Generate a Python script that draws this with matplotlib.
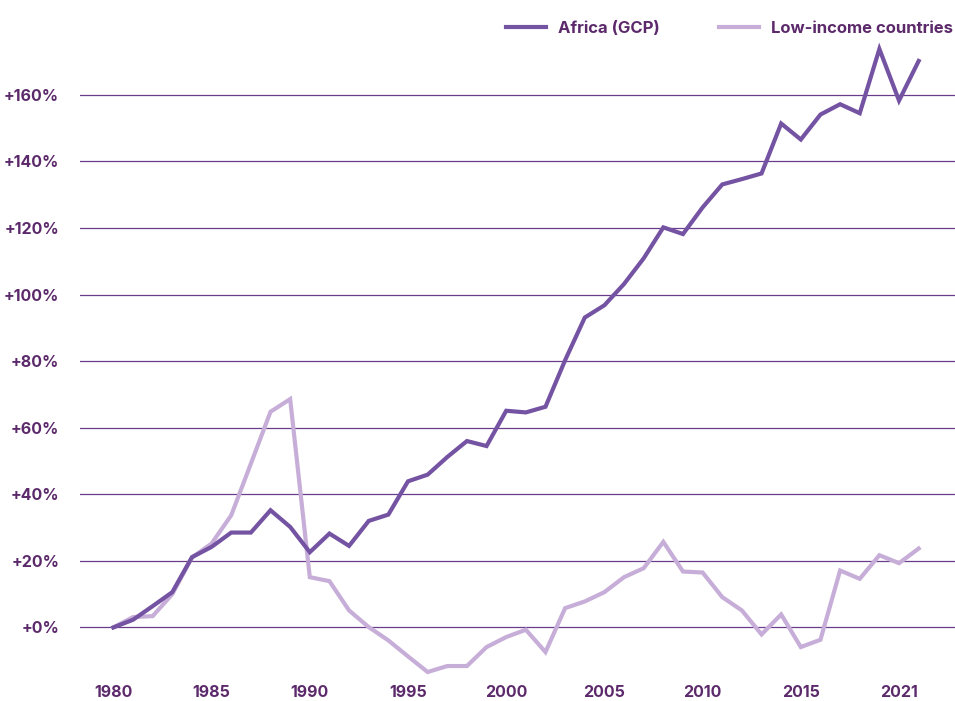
import matplotlib
matplotlib.use("Agg")
import matplotlib.pyplot as plt
import matplotlib.ticker as mticker

# Cumulative change since 1980 (%)
years = list(range(1980, 2022))
africa_gcp = [0.0, 2.3, 6.4, 10.6, 21.1, 24.2, 28.5, 28.5, 35.2, 30.2,
              22.6, 28.2, 24.5, 32.0, 33.9, 43.9, 45.9, 51.2, 56.0, 54.5,
              65.1, 64.6, 66.3, 80.3, 93.1, 96.8, 103.2, 110.9, 120.2, 118.2,
              126.2, 133.1, 134.7, 136.4, 151.4, 146.6, 154.1, 157.2, 154.5, 173.8,
              158.3, 170.2]
low_income = [0.0, 3.1, 3.4, 10.0, 21.0, 25.2, 33.7, 49.2, 64.8, 68.6,
              15.1, 13.9, 5.1, 0.1, -3.9, -8.7, -13.4, -11.6, -11.6, -5.9,
              -2.9, -0.7, -7.4, 5.8, 7.8, 10.6, 15.1, 17.8, 25.7, 16.8,
              16.5, 9.1, 5.1, -2.1, 3.9, -5.9, -3.7, 17.1, 14.6, 21.7,
              19.3, 23.7]

tick_years = [1980, 1985, 1990, 1995, 2000, 2005, 2010, 2015, 2020]
tick_labels = ["1980", "1985", "1990", "1995", "2000", "2005", "2010", "2015", "2021"]
y_ticks = [0, 20, 40, 60, 80, 100, 120, 140, 160]

dark = "#7553a3"
light = "#c7aed8"
text_col = "#5c2a6b"
grid_col = "#6a3d8c"

plt.rcParams['font.family'] = ['Inter', 'DejaVu Sans']

fig = plt.figure(figsize=(9.55, 7.01), dpi=100)
ax = fig.add_axes([80 / 955, 1 - 684 / 701, 875 / 955, (684 - 35) / 701])

for v in y_ticks:
    ax.axhline(v, color=grid_col, linewidth=0.9, zorder=1)

ax.plot(years, low_income, color=light, linewidth=3, label="Low-income countries",
        solid_joinstyle="miter", zorder=2)
ax.plot(years, africa_gcp, color=dark, linewidth=3, label="Africa (GCP)",
        solid_joinstyle="miter", zorder=3)

ax.set_xlim(1978.3, 2022.85)
ax.set_ylim(-17, 178)

ax.set_yticks(y_ticks)
ax.yaxis.set_major_formatter(mticker.FuncFormatter(lambda v, p: f"+{v:.0f}%"))
ax.set_xticks(tick_years)
ax.set_xticklabels(tick_labels)

for lab in ax.get_xticklabels() + ax.get_yticklabels():
    lab.set_fontweight("bold")
    lab.set_color(text_col)
    lab.set_fontsize(11.5)

ax.tick_params(axis="y", length=0, pad=15)
ax.tick_params(axis="x", length=0, pad=1)
for s in ax.spines.values():
    s.set_visible(False)

handles, labels = ax.get_legend_handles_labels()
leg = ax.legend(handles[::-1], labels[::-1], loc="upper right", bbox_to_anchor=(1.015, 1.045),
                ncol=2, frameon=False, handlelength=2.4, handletextpad=0.7,
                columnspacing=3.6, prop={"weight": "bold", "size": 12})
for t in leg.get_texts():
    t.set_color(text_col)
    t.set_fontweight("bold")

fig.savefig("out.png", dpi=100)
